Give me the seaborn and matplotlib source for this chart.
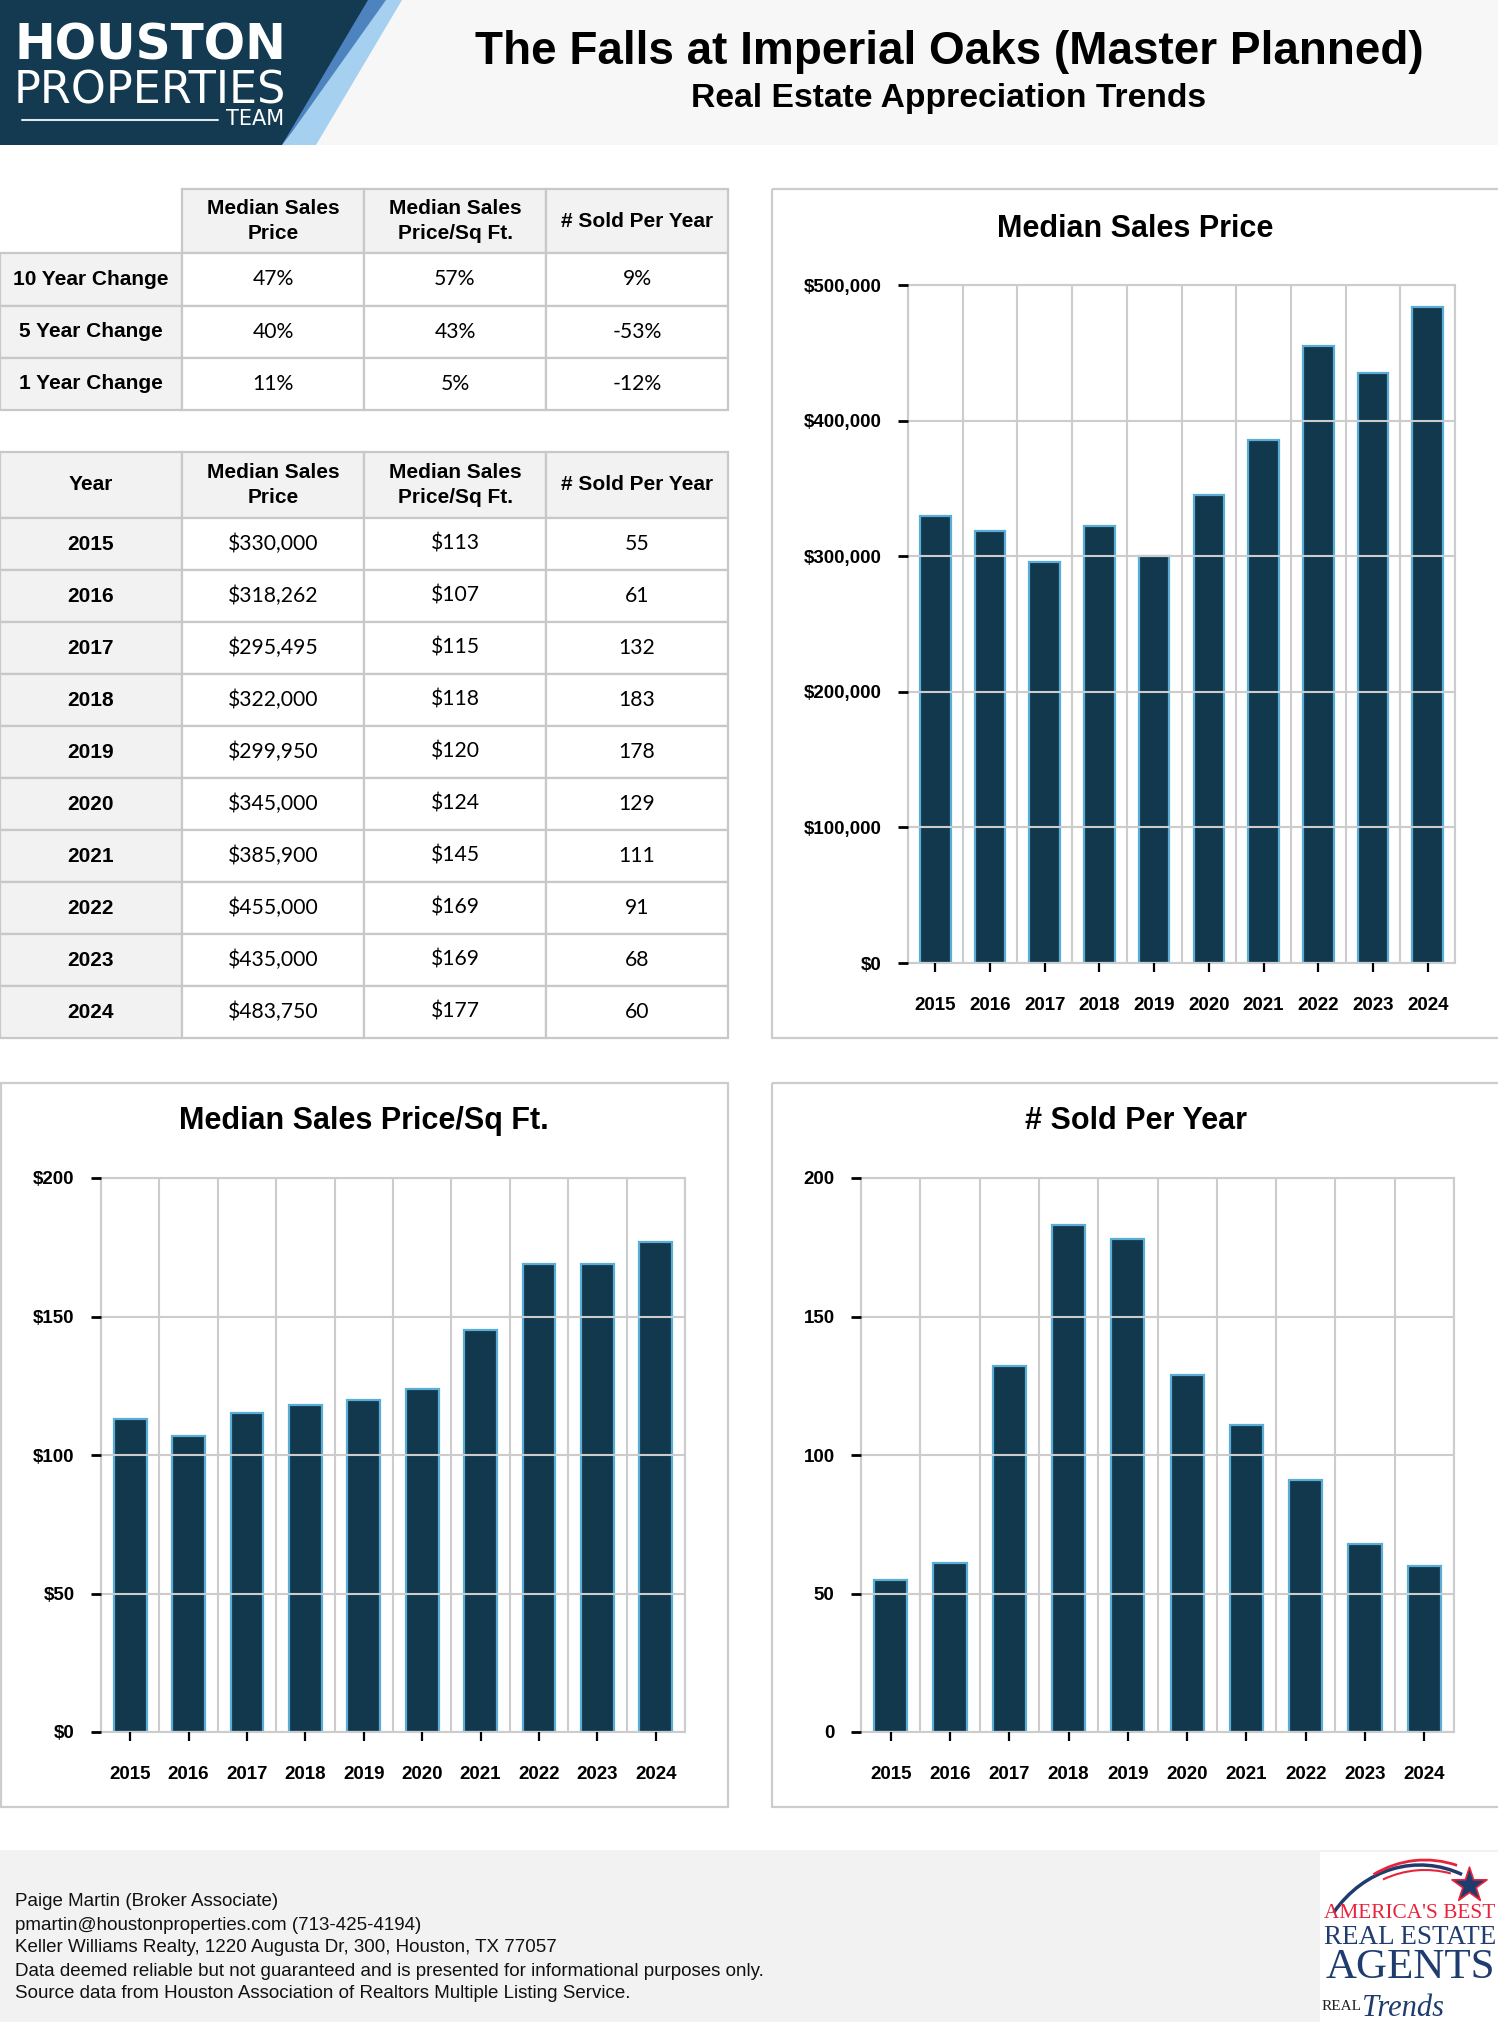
import numpy as np
import seaborn as sns
import matplotlib.pyplot as plt
from matplotlib.patches import Rectangle, Polygon, Arc
from matplotlib.ticker import FixedLocator, FuncFormatter

# data
years = ['2015', '2016', '2017', '2018', '2019', '2020', '2021', '2022', '2023', '2024']
median_price = [330000, 318262, 295495, 322000, 299950, 345000, 385900, 455000, 435000, 483750]
price_per_sqft = [113, 107, 115, 118, 120, 124, 145, 169, 169, 177]
sold_per_year = [55, 61, 132, 183, 178, 129, 111, 91, 68, 60]

change_labels = ['10 Year Change', '5 Year Change', '1 Year Change']
price_change = ['47%', '40%', '11%']
sqft_change = ['57%', '43%', '5%']
sold_change = ['9%', '-53%', '-12%']

col_headers = ['Median Sales\nPrice', 'Median Sales\nPrice/Sq Ft.', '# Sold Per Year']

title = 'The Falls at Imperial Oaks (Master Planned)'
subtitle = 'Real Estate Appreciation Trends'
footer_lines = [
    'Paige Martin (Broker Associate)',
    'pmartin@houstonproperties.com (713-425-4194)',
    'Keller Williams Realty, 1220 Augusta Dr, 300, Houston, TX 77057',
    'Data deemed reliable but not guaranteed and is presented for informational purposes only.',
    'Source data from Houston Association of Realtors Multiple Listing Service.',
]

NAVY = '#12384e'
EDGE = '#5aaed6'
GRID = '#cccccc'
W, H = 1498, 2022

sns.set_style('white')
plt.rcParams['font.family'] = ['Liberation Sans', 'DejaVu Sans']
plt.rcParams['text.color'] = 'black'
plt.rcParams['xtick.color'] = 'black'
plt.rcParams['ytick.color'] = 'black'

fig = plt.figure(figsize=(W / 100, H / 100), dpi=100)


def box(l, t, r, b):
    # pixel box (top-left origin) -> figure fraction
    return [l / W, 1 - b / H, (r - l) / W, (b - t) / H]


bg = fig.add_axes([0, 0, 1, 1])
bg.set_xlim(0, W)
bg.set_ylim(H, 0)
bg.axis('off')

# header band + logo
bg.add_patch(Rectangle((0, 0), W, 145, color='#f7f7f7', lw=0))
bg.add_patch(Polygon([(360, 0), (402, 0), (316, 145), (282, 145)], color='#a6d0f0', lw=0))
bg.add_patch(Polygon([(360, 0), (386, 0), (292, 132), (282, 145)], color='#4d84bf', lw=0))
bg.add_patch(Polygon([(0, 0), (368, 0), (282, 145), (0, 145)], color='#133a50', lw=0))
bg.text(150, 46, 'HOUSTON', color='white', fontsize=35, fontweight='bold',
        family='DejaVu Sans', ha='center', va='center')
bg.text(150, 91, 'PROPERTIES', color='white', fontsize=32, family='DejaVu Sans',
        ha='center', va='center')
bg.plot([22, 218], [120, 120], color='#dde6ec', lw=1.5)
bg.text(284, 119, 'TEAM', color='white', fontsize=15, family='DejaVu Sans',
        ha='right', va='center')

bg.text(949, 52, title, fontsize=33, fontweight='bold', ha='center', va='center')
bg.text(949, 99, subtitle, fontsize=24.2, fontweight='bold', ha='center', va='center')

# chart panels
for (l, t, r, b) in [(772, 189, 1510, 1038), (1, 1083, 728, 1807), (772, 1083, 1510, 1807)]:
    bg.add_patch(Rectangle((l, t), r - l, b - t, fill=False, ec=GRID, lw=1.6))

# footer
bg.add_patch(Rectangle((0, 1850), W, H - 1850, color='#f2f2f2', lw=0))
for i, line in enumerate(footer_lines):
    bg.text(15, 1902 + i * 23, line, fontsize=13.5, ha='left', va='center', color='#111111')

# footer badge
bg.add_patch(Rectangle((1320, 1852), 180, 172, color='white', lw=0))
bg.add_patch(Arc((1420, 1990), 220, 250, theta1=222, theta2=290, color='#1f3c6e', lw=2.5))
bg.add_patch(Arc((1425, 1985), 220, 250, theta1=245, theta2=285, color='#e8243c', lw=2))
bg.add_patch(Arc((1425, 1995), 220, 250, theta1=250, theta2=282, color='#e8243c', lw=1.5))
bg.scatter([1469], [1885], marker='*', s=700, color='#1f3c6e', edgecolor='#e8243c', lw=1.2, zorder=5)
bg.text(1410, 1914, "AMERICA'S BEST", color='#e8243c', family='Liberation Serif',
        fontsize=15.3, ha='center', va='center')
bg.text(1410, 1938, 'REAL ESTATE', color='#1f3c6e', family='Liberation Serif',
        fontsize=19.5, ha='center', va='center')
bg.text(1410, 1968, 'AGENTS', color='#1f3c6e', family='Liberation Serif',
        fontsize=31, ha='center', va='center')
bg.text(1322, 2007, 'REAL', color='#222222', family='Liberation Serif',
        fontsize=11, ha='left', va='center')
bg.text(1362, 2008, 'Trends', color='#1f3c6e', family='Liberation Serif', style='italic',
        fontsize=22, ha='left', va='center')


def draw_table(rect, rows, header, head_h):
    ax = fig.add_axes(box(*rect))
    ax.axis('off')
    tb = ax.table(cellText=rows, colLabels=header, cellLoc='center', bbox=[0, 0, 1, 1])
    tb.auto_set_font_size(False)
    for (r, c), cell in tb.get_celld().items():
        cell.set_edgecolor('#c8c8c8')
        cell.set_linewidth(1.6)
        cell.set_height(head_h if r == 0 else 52)
        txt = cell.get_text()
        txt.set_color('black')
        if r == 0 or c == 0:
            cell.set_facecolor('#f2f2f2')
            txt.set_fontweight('bold')
            txt.set_fontsize(15)
            txt.set_linespacing(1.4)
        else:
            txt.set_fontfamily(['Lato', 'DejaVu Sans'])
            txt.set_fontsize(15.2)
    return tb


change_rows = [[lab, a, b, c] for lab, a, b, c in zip(change_labels, price_change, sqft_change, sold_change)]
tb1 = draw_table((0, 189, 728, 410), change_rows, [''] + col_headers, 64)
tb1[0, 0].visible_edges = 'open'
tb1[0, 0].set_facecolor('white')

year_rows = [[y, f'${p:,}', f'${s}', str(n)]
             for y, p, s, n in zip(years, median_price, price_per_sqft, sold_per_year)]
draw_table((0, 452, 728, 1038), year_rows, ['Year'] + col_headers, 66)


def bar_chart(rect, values, ymax, step, fmt, label, title_xy):
    ax = fig.add_axes(box(*rect))
    sns.barplot(x=years, y=values, ax=ax, color=NAVY, edgecolor=EDGE,
                linewidth=1.6, width=0.56, saturation=1)
    ax.set_xlim(-0.5, 9.5)
    ax.set_ylim(0, ymax)
    ax.set_yticks(np.arange(0, ymax + 1, step))
    ax.yaxis.set_major_formatter(FuncFormatter(fmt))
    ax.xaxis.set_minor_locator(FixedLocator(np.arange(-0.5, 10, 1)))
    ax.grid(True, axis='y', which='major', color=GRID, lw=1.5)
    ax.grid(True, axis='x', which='minor', color=GRID, lw=1.5)
    ax.set_axisbelow(False)
    for s in ax.spines.values():
        s.set_color(GRID)
        s.set_linewidth(1.5)
    ax.tick_params(axis='y', which='major', left=True, length=7, width=2,
                   color='black', labelcolor='black', pad=12, labelsize=13.5)
    ax.tick_params(axis='x', which='major', bottom=True, length=6.5, width=1.6,
                   color='black', labelcolor='black', pad=18, labelsize=13.5)
    ax.tick_params(axis='x', which='minor', length=0)
    for lab in ax.get_xticklabels() + ax.get_yticklabels():
        lab.set_fontweight('bold')
    ax.set_xlabel('')
    ax.set_ylabel('')
    bg.text(title_xy[0], title_xy[1], label, fontsize=22, fontweight='bold',
            ha='center', va='center')


bar_chart((908, 285, 1455, 963), median_price, 500000, 100000,
          lambda v, p: f'${v:,.0f}', 'Median Sales Price', (1135, 229))
bar_chart((101, 1178, 685, 1732), price_per_sqft, 200, 50,
          lambda v, p: f'${v:,.0f}', 'Median Sales Price/Sq Ft.', (364, 1121))
bar_chart((861, 1178, 1454, 1732), sold_per_year, 200, 50,
          lambda v, p: f'{v:,.0f}', '# Sold Per Year', (1136, 1121))

fig.savefig('out.png', dpi=100)
